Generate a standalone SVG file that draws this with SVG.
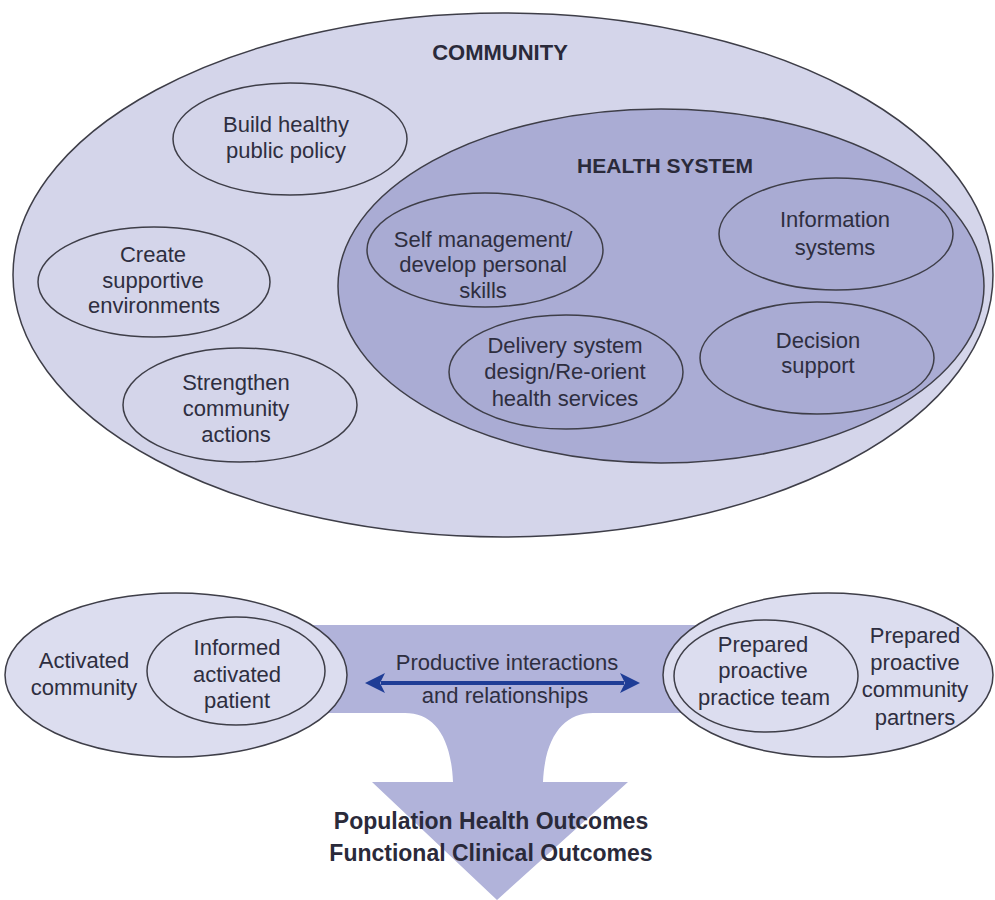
<svg xmlns="http://www.w3.org/2000/svg" width="995" height="900" viewBox="0 0 995 900">
  <style>
    .t { font-family: "Liberation Sans", Arial, sans-serif; font-size: 22px; fill: #2e2e40; text-anchor: middle; }
    .h { font-family: "Liberation Sans", Arial, sans-serif; font-weight: bold; fill: #2a2a3a; text-anchor: middle; }
    .light { fill: #d4d5ea; stroke: #3e3e48; stroke-width: 1.5; }
    .dark { fill: #aaacd4; stroke: #3e3e48; stroke-width: 1.5; }
    .inner { fill: #a9abd3; stroke: #3e3e48; stroke-width: 1.5; }
    .pale { fill: #dcddef; stroke: #3e3e48; stroke-width: 1.5; }
    .band { fill: #b1b3da; }
  </style>
  <defs>
    <marker id="ah" viewBox="0 0 20 20" refX="4" refY="10" markerWidth="20" markerHeight="20" markerUnits="userSpaceOnUse" orient="auto-start-reverse">
      <path d="M0 0 L20 10 L0 20 L5 10 Z" fill="#1f3d96"/>
    </marker>
  </defs>
  <rect width="995" height="900" fill="#ffffff"/>

  <!-- Funnel / outcomes arrow shape -->
  <g id="funnel">
    <path class="band" d="M 250 625 H 750 V 713 H 593 C 565 713, 545 735, 543 782 H 628 L 497 900 L 372 782 H 453 C 451 735, 433 713, 405 713 H 250 Z"/>
  </g>

  <g id="community">
    <ellipse class="light" cx="503" cy="275" rx="490" ry="262"/>
    <text class="h" x="500" y="60" font-size="22">COMMUNITY</text>
  </g>

  <g id="build-policy">
    <ellipse class="light" cx="290" cy="139" rx="117" ry="56"/>
    <text class="t" x="286" y="132">Build healthy</text>
    <text class="t" x="286" y="158">public policy</text>
  </g>

  <g id="supportive-env">
    <ellipse class="light" cx="154" cy="282" rx="116" ry="55"/>
    <text class="t" x="153" y="262">Create</text>
    <text class="t" x="153" y="288">supportive</text>
    <text class="t" x="154" y="313">environments</text>
  </g>

  <g id="community-actions">
    <ellipse class="light" cx="240" cy="405" rx="117" ry="57"/>
    <text class="t" x="236" y="390">Strengthen</text>
    <text class="t" x="236" y="416">community</text>
    <text class="t" x="236" y="442">actions</text>
  </g>

  <g id="health-system">
    <ellipse class="dark" cx="661" cy="286" rx="323" ry="177"/>
    <text class="h" x="665" y="173" font-size="21">HEALTH SYSTEM</text>
  </g>

  <g id="self-management">
    <ellipse class="inner" cx="485" cy="250" rx="118" ry="57"/>
    <text class="t" x="483" y="247">Self management/</text>
    <text class="t" x="483" y="272">develop personal</text>
    <text class="t" x="483" y="298">skills</text>
  </g>

  <g id="information-systems">
    <ellipse class="inner" cx="836" cy="234" rx="117" ry="56"/>
    <text class="t" x="835" y="227">Information</text>
    <text class="t" x="835" y="255">systems</text>
  </g>

  <g id="delivery-system">
    <ellipse class="inner" cx="566" cy="372" rx="117" ry="57"/>
    <text class="t" x="565" y="353">Delivery system</text>
    <text class="t" x="565" y="379">design/Re-orient</text>
    <text class="t" x="565" y="406">health services</text>
  </g>

  <g id="decision-support">
    <ellipse class="inner" cx="817" cy="358" rx="117" ry="56"/>
    <text class="t" x="818" y="348">Decision</text>
    <text class="t" x="818" y="373">support</text>
  </g>

  <g id="activated-community">
    <ellipse class="pale" cx="176" cy="675" rx="171" ry="82"/>
    <text class="t" x="84" y="668">Activated</text>
    <text class="t" x="84" y="695">community</text>
  </g>

  <g id="informed-patient">
    <ellipse class="pale" cx="236" cy="671" rx="89" ry="54"/>
    <text class="t" x="237" y="655">Informed</text>
    <text class="t" x="237" y="682">activated</text>
    <text class="t" x="237" y="708">patient</text>
  </g>

  <g id="community-partners">
    <ellipse class="pale" cx="828" cy="675" rx="165" ry="82"/>
    <text class="t" x="915" y="643">Prepared</text>
    <text class="t" x="915" y="670">proactive</text>
    <text class="t" x="915" y="697">community</text>
    <text class="t" x="915" y="725">partners</text>
  </g>

  <g id="practice-team">
    <ellipse class="pale" cx="766" cy="676" rx="92" ry="56"/>
    <text class="t" x="763" y="652">Prepared</text>
    <text class="t" x="763" y="678">proactive</text>
    <text class="t" x="764" y="705">practice team</text>
  </g>

  <g id="connectors">
    <line x1="381" y1="683" x2="624" y2="683" stroke="#1f3d96" stroke-width="4" marker-start="url(#ah)" marker-end="url(#ah)"/>
  </g>

  <g id="interaction-label">
    <text class="t" x="507" y="670">Productive interactions</text>
    <text class="t" x="505" y="703">and relationships</text>
  </g>

  <g id="outcomes">
    <text class="h" x="491" y="829" font-size="23">Population Health Outcomes</text>
    <text class="h" x="491" y="861" font-size="23">Functional Clinical Outcomes</text>
  </g>
</svg>
